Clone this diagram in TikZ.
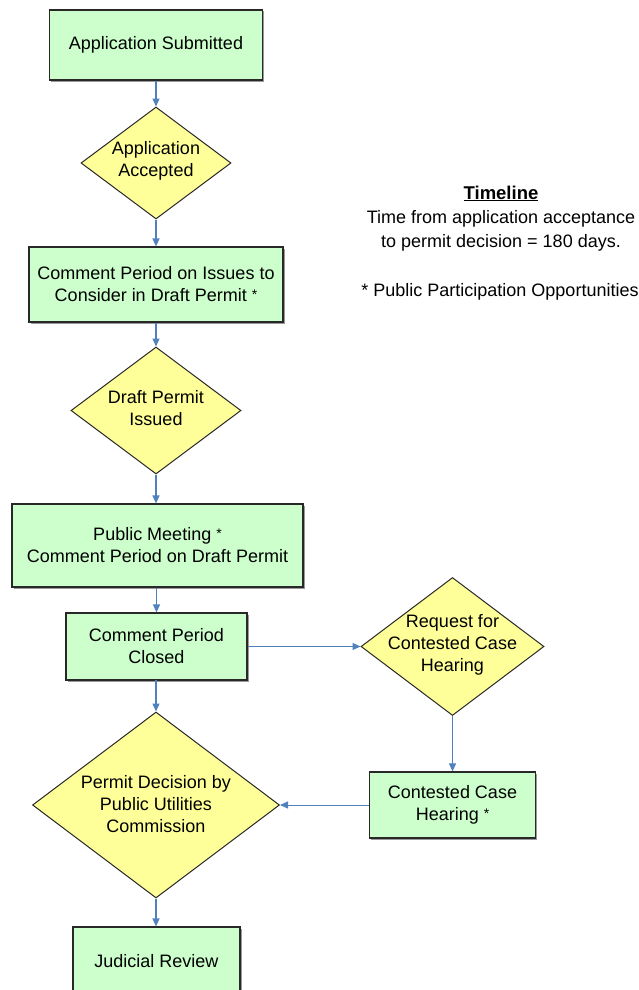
\documentclass[tikz,border=0pt]{standalone}
\usepackage{fontspec}
\setmainfont{Liberation Sans}
\usetikzlibrary{shapes.geometric,arrows.meta}
\definecolor{boxgreen}{RGB}{204,255,204}
\definecolor{diayellow}{RGB}{255,255,153}
\definecolor{arrowblue}{RGB}{79,129,189}
\definecolor{edgegray}{RGB}{40,40,40}
\newcommand{\pstar}{\raisebox{2.5pt}{\fontsize{14}{14}\selectfont *}}
\begin{document}
\begin{tikzpicture}[x=1pt,y=-1pt,
  mainfont/.style={font=\fontsize{18}{22}\selectfont},
  shadowed/.style={preaction={fill=black!40, transform canvas={xshift=1.5pt,yshift=-1.5pt}}},
  procbox/.style={rectangle, draw=edgegray, line width=1.2pt, fill=boxgreen, shadowed, inner sep=0pt, align=center, mainfont},
  decision/.style={diamond, draw=edgegray, line width=1pt, fill=diayellow, inner sep=0pt},
  dtext/.style={align=center, inner sep=0pt, mainfont},
  flow/.style={draw=arrowblue, line width=1.3pt, -{Triangle[length=8pt,width=7pt]}},
  hflow/.style={flow, line width=1pt},
  note/.style={anchor=base, inner sep=0pt, mainfont}
]
\useasboundingbox (0,0) rectangle (638,990);

% main column
\node[procbox, minimum width=213, minimum height=70] (sub) at (156,45) {Application Submitted};
\node[decision, minimum width=150, minimum height=112] (acc) at (156,163) {};
\node[dtext] (acct) at (156,161) {Application\\Accepted};
\node[procbox, minimum width=254, minimum height=75] (cpi) at (156,284.5) {Comment Period on Issues to\\Consider in Draft Permit \pstar};
\node[decision, minimum width=170, minimum height=127] (dpi) at (156,410.5) {};
\node[dtext] (dpit) at (156,408) {Draft Permit\\Issued};
\node[procbox, minimum width=291, minimum height=83] (pm) at (157.5,545.5) {Public Meeting \pstar\\Comment Period on Draft Permit};
\node[procbox, minimum width=181, minimum height=67] (cpc) at (156.5,646.5) {Comment Period\\Closed};
\node[decision, minimum width=247, minimum height=186] (pd) at (156,805) {};
\node[dtext] (pdt) at (156,804) {Permit Decision by\\Public Utilities\\Commission};
\node[procbox, minimum width=167, minimum height=68] (jr) at (156.5,961) {Judicial Review};

% right branch
\node[decision, minimum width=183, minimum height=138] (req) at (452.5,646.5) {};
\node[dtext] (reqt) at (452.5,645) {Request for\\Contested Case\\Hearing};
\node[procbox, minimum width=166, minimum height=66] (cch) at (452.5,805) {Contested Case\\Hearing \pstar};

% timeline text
\node[note, font=\bfseries\fontsize{18.5}{22}\selectfont] (tl) at (501,199) {\underline{Timeline}};
\node[note] (tl1) at (501,223) {Time from application acceptance};
\node[note] (tl2) at (501,247) {to permit decision = 180 days.};
\node[note] (tl3) at (500,296) {* Public Participation Opportunities};

% connectors
\draw[flow] (sub.south) -- (acc.north);
\draw[flow] (acc.south) -- (cpi.north);
\draw[flow] (cpi.south) -- (dpi.north);
\draw[flow] (dpi.south) -- (dpi.south |- pm.north);
\draw[flow] (cpc.north |- pm.south) -- (cpc.north);
\draw[flow] (cpc.south) -- (cpc.south -| pd.north) -- (pd.north);
\draw[hflow] (cpc.east) -- (req.west);
\draw[hflow] (req.south) -- (cch.north);
\draw[hflow] (cch.west) -- (pd.east);
\draw[flow] (pd.south) -- (pd.south |- jr.north);
\end{tikzpicture}
\end{document}
